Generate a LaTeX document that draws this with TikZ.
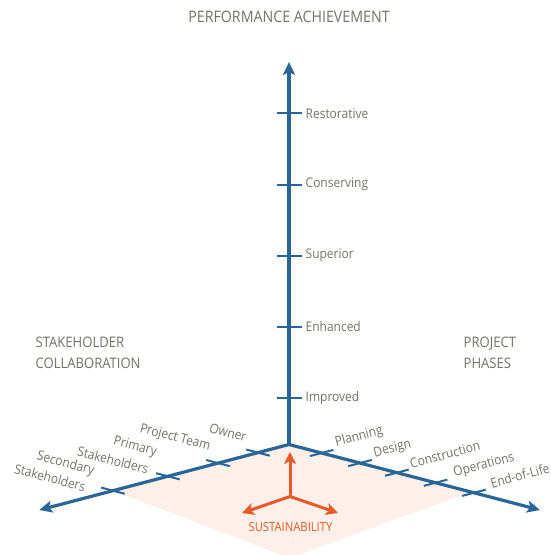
\documentclass[tikz,border=0pt]{standalone}
\usepackage{fontspec}
\setmainfont{Open Sans}[FakeStretch=0.9]
\usetikzlibrary{arrows.meta,calc}
\definecolor{axisblue}{RGB}{40,101,152}
\definecolor{txtgray}{RGB}{118,112,104}
\definecolor{sustorange}{RGB}{232,88,42}
\definecolor{shadepeach}{RGB}{253,240,232}
\begin{document}
\begin{tikzpicture}[x=1pt,y=-1pt,
  axisline/.style={draw=axisblue,line width=3.2pt,-{Stealth[length=13pt,width=12pt,inset=3pt]}},
  tickline/.style={draw=axisblue,line width=2pt},
  ticklab/.style={text=txtgray,font=\fontsize{13.3}{15}\selectfont,inner sep=0pt},
  leftlab/.style={ticklab,rotate=-14.7},
  rightlab/.style={ticklab,rotate=14.7},
  headlab/.style={text=txtgray,font=\fontsize{14.5}{20.5}\selectfont,inner sep=0pt,align=left},
  sustarrow/.style={draw=sustorange,line width=3pt,-{Stealth[length=12pt,width=12pt,inset=3pt]}}]
\useasboundingbox (0,0) rectangle (551,555);
% shaded base
\fill[shadepeach] (289,444.5) -- (113,491) -- (290,558) -- (468,493) -- cycle;
% axis coordinates
\coordinate (O) at (289,444.5);
\coordinate (vtip) at (289,62);
\coordinate (ltip) at (39.3,510);
\coordinate (rtip) at (540,510);
% axes
\draw[axisline] (O) -- (vtip);
\draw[axisline] (O) -- (ltip);
\draw[axisline] (O) -- (rtip);
% vertical ticks and labels
\foreach \yy/\lab/\nm in {113.3/Restorative/v5,184.5/Conserving/v4,255.7/Superior/v3,326.9/Enhanced/v2,398/Improved/v1}{
  \coordinate (\nm) at (289,\yy);
  \draw[tickline] ($(\nm)+(-12.5,0)$) -- ($(\nm)+(12.5,0)$);
  \node[ticklab,anchor=west] (\nm lab) at (305.5,\yy) {\lab};
}
% left axis ticks
\foreach \t/\nm in {0.124/l1,0.284/l2,0.485/l3,0.705/l4}{
  \coordinate (\nm) at ($(O)!\t!(ltip)$);
  \draw[tickline] ($(\nm)+(-11.8,-3.1)$) -- ($(\nm)+(11.8,3.1)$);
}
% right axis ticks
\foreach \t/\nm in {0.130/r1,0.283/r2,0.430/r3,0.584/r4,0.737/r5}{
  \coordinate (\nm) at ($(O)!\t!(rtip)$);
  \draw[tickline] ($(\nm)+(-11.8,3.1)$) -- ($(\nm)+(11.8,-3.1)$);
}
% left axis labels
\node[leftlab] (owner) at (228,432.5) {Owner};
\node[leftlab] (pteam) at (175,438) {Project Team};
\node[leftlab] (prim1) at (135,447) {Primary};
\node[leftlab] (prim2) at (113,460) {Stakeholders};
\node[leftlab] (sec1) at (65.5,464) {Secondary};
\node[leftlab] (sec2) at (50,477.5) {Stakeholders};
% right axis labels
\node[rightlab] (plan) at (359,437) {Planning};
\node[rightlab] (design) at (392.5,449) {Design};
\node[rightlab] (constr) at (445,454.5) {Construction};
\node[rightlab] (oper) at (484,465.5) {Operations};
\node[rightlab] (eol) at (520,475.5) {End-of-Life};
% headings
\node[text=txtgray,font=\fontsize{15.8}{20}\selectfont,inner sep=0pt,anchor=north] (perf) at (289,10.5) {PERFORMANCE ACHIEVEMENT};
\node[headlab,anchor=north west] (stake) at (35.5,337) {STAKEHOLDER\\COLLABORATION};
\node[headlab,anchor=north west] (phases) at (463.5,337) {PROJECT\\PHASES};
% sustainability
\coordinate (S) at (290,496.5);
\coordinate (sup) at (290,452);
\coordinate (sleft) at (242,513);
\coordinate (sright) at (338,513);
\draw[sustarrow] (S) -- (sup);
\draw[sustarrow] (S) -- (sleft);
\draw[sustarrow] (S) -- (sright);
\node[text=sustorange,font=\fontsize{12.5}{14}\selectfont,inner sep=0pt] (sust) at (290.5,527) {SUSTAINABILITY};
\end{tikzpicture}
\end{document}
